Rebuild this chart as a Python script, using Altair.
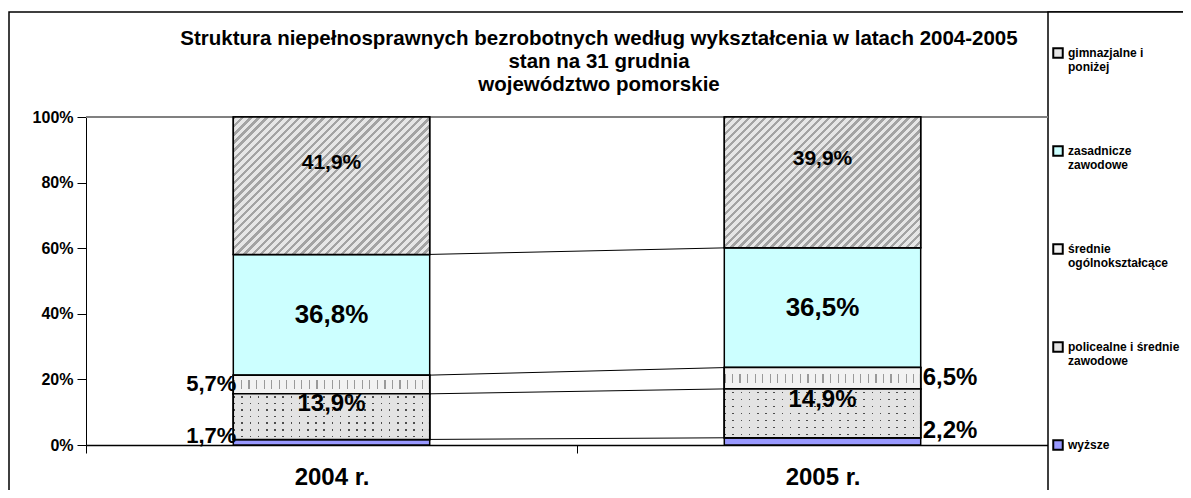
import altair as alt
import pandas as pd

# ---------------- data ----------------
years = ["2004 r.", "2005 r."]
categories = ["wyższe", "policealne i średnie zawodowe", "średnie ogólnokształcące",
              "zasadnicze zawodowe", "gimnazjalne i poniżej"]
share_2004 = [1.7, 13.9, 5.7, 36.8, 41.9]
share_2005 = [2.2, 14.9, 6.5, 36.5, 39.9]
legend_lines = [["wyższe"], ["policealne i średnie", "zawodowe"], ["średnie", "ogólnokształcące"],
                ["zasadnicze", "zawodowe"], ["gimnazjalne i", "poniżej"]]
title_lines = ["Struktura niepełnosprawnych bezrobotnych według wykształcenia w latach 2004-2005",
               "stan na 31 grudnia", "województwo pomorskie"]
y_ticks = [0, 0.2, 0.4, 0.6, 0.8, 1.0]

# ---------------- style ----------------
FONT = "Liberation Sans"
PLOT_W, PLOT_H = 962, 328
BAND = 491.0
XMAX = PLOT_W / BAND
HALF = 0.2
BAR_W = 2 * HALF * BAND
colors = ["#9999FF", "#E3E3E3", "#F2F2F2", "#CCFFFF", "#E6E6E6"]

rows = []
for yi, shares in enumerate([share_2004, share_2005]):
    cum = 0.0
    for ci, (cat, v) in enumerate(zip(categories, shares)):
        rows.append(dict(year=years[yi], yi=yi, pos=yi + 0.5, cat=cat, order=ci,
                         value=v, y0=cum / 100, y1=(cum + v) / 100))
        cum += v
df = pd.DataFrame(rows)

# series lines between bars
line_rows = []
for ci in range(len(categories) - 1):
    a = df[(df.yi == 0) & (df.order == ci)].iloc[0]
    b = df[(df.yi == 1) & (df.order == ci)].iloc[0]
    line_rows.append(dict(xa=a.pos + HALF, xb=b.pos - HALF, ya=a.y1, yb=b.y1))
lines_df = pd.DataFrame(line_rows)


def stripes(n, duty, dark, light, x2, y2):
    stops = []
    for i in range(n):
        s, e, f = i / n, (i + duty) / n, (i + 1) / n
        stops += [{"offset": s, "color": dark}, {"offset": e, "color": dark},
                  {"offset": e, "color": light}, {"offset": f, "color": light}]
    return {"gradient": "linear", "x1": 0, "y1": 0, "x2": x2, "y2": y2, "stops": stops}


def diag_fill(share):
    h = share / 100 * PLOT_H
    r = h / BAR_W
    a = (1 + r) / (1 + r * r)
    n = int(round((BAR_W + h) / 2 ** 0.5 / 5.7))
    return stripes(n, 0.42, "#A3A3A3", "#E6E6E6", a, a * r)


def band_mask(color, clear, n=1, start=0.0, end=1.0):
    stops = []
    for i in range(n):
        s = i / n
        stops += [{"offset": s + start / n, "color": color},
                  {"offset": s + start / n, "color": clear},
                  {"offset": s + end / n, "color": clear},
                  {"offset": s + end / n, "color": color},
                  {"offset": (i + 1) / n, "color": color}]
    return {"gradient": "linear", "x1": 0, "y1": 0, "x2": 0, "y2": 1, "stops": stops}


xscale = alt.Scale(domain=[0, XMAX], nice=False, zero=False)
yscale = alt.Scale(domain=[0, 1], nice=False)

label_expr = (f"datum.value == 0.5 ? '{years[0]}' : datum.value == 1.5 ? '{years[1]}' : ''")
xaxis = alt.Axis(values=[0, 0.5, 1, 1.5], title=None, labelExpr=label_expr, grid=False,
                 tickSize=8, tickColor="black", domainColor="black", domainWidth=1.5,
                 labelFont=FONT, labelFontSize=24, labelFontWeight="bold", labelColor="black",
                 labelPadding=12, labelOverlap=False, labelFlush=False,
                 tickOpacity={"condition": {"test": "datum.value % 1 != 0", "value": 0}, "value": 1})
yaxis = alt.Axis(values=y_ticks, format=".0%", title=None, grid=False, tickSize=9,
                 tickColor="black", domainColor="black", labelFont=FONT, labelFontSize=16,
                 labelFontWeight="bold", labelColor="black", labelPadding=4)

leg_expr = ""
for cat, lines in zip(categories, legend_lines):
    arr = "[" + ", ".join(f"'{s}'" for s in lines) + "]"
    leg_expr += f"datum.label == '{cat}' ? {arr} : "
leg_expr += "datum.label"

legend = alt.Legend(title=None, orient="none", legendX=966, legendY=-70, padding=0,
                    symbolType="square", symbolSize=90, symbolStrokeColor="black",
                    symbolStrokeWidth=2, labelFont=FONT, labelFontSize=12,
                    labelFontWeight="bold", labelColor="black", labelLimit=300,
                    labelExpr=leg_expr, rowPadding=69, labelBaseline="middle", labelOffset=4)

base = alt.Chart(df).transform_calculate(
    xl=f"datum.pos - {HALF}", xr=f"datum.pos + {HALF}",
    ymid="(datum.y0 + datum.y1) / 2",
    lab="replace(format(datum.value, '.1f'), '.', ',') + '%'")

one = alt.Data(values=[{}])
outer = alt.Chart(one).mark_rect(fillOpacity=0, stroke="black", strokeWidth=1.5).encode(
    x=alt.value(-77), x2=alt.value(1300), y=alt.value(-105), y2=alt.value(600))
legend_box = alt.Chart(one).mark_rect(fill="white", stroke="black", strokeWidth=1.5).encode(
    x=alt.value(PLOT_W), x2=alt.value(1300), y=alt.value(-105), y2=alt.value(600))
top_line = alt.Chart(one).mark_rule(color="#808080", strokeWidth=2).encode(
    x=alt.value(0), x2=alt.value(PLOT_W), y=alt.value(0))

bars = base.mark_rect(stroke="black", strokeWidth=1.5).encode(
    x=alt.X("xl:Q", scale=xscale, axis=xaxis), x2="xr:Q",
    y=alt.Y("y0:Q", scale=yscale, axis=yaxis), y2="y1:Q",
    color=alt.Color("cat:N", scale=alt.Scale(domain=categories[::-1], range=colors[::-1]),
                    legend=legend))


def overlay(flt, fill):
    return base.transform_filter(flt).mark_rect(fill=fill, stroke="black", strokeWidth=1.5).encode(
        x=alt.X("xl:Q"), x2="xr:Q", y=alt.Y("y0:Q"), y2="y1:Q")


ov = [
    overlay("datum.order == 4 && datum.yi == 0", diag_fill(share_2004[4])),
    overlay("datum.order == 4 && datum.yi == 1", diag_fill(share_2005[4])),
    overlay("datum.order == 2", stripes(26, 0.16, "#9A9A9A", "#F2F2F2", 1, 0)),
    overlay("datum.order == 2", band_mask("#F2F2F2", "rgba(242,242,242,0)", 1, 0.28, 0.72)),
    overlay("datum.order == 1", stripes(24, 0.2, "#4D4D4D", "#E3E3E3", 1, 0)),
    overlay("datum.order == 1", band_mask("#E3E3E3", "rgba(227,227,227,0)", 7, 0.4, 0.63)),
]

series = alt.Chart(lines_df).mark_rule(color="black", strokeWidth=1).encode(
    x=alt.X("xa:Q"), x2="xb:Q", y=alt.Y("ya:Q"), y2="yb:Q")


def lab(flt, size, xf="pos", align="center", dx=0, dy=0):
    return base.transform_filter(flt).mark_text(
        font=FONT, fontSize=size, fontWeight="bold", color="black", align=align,
        baseline="middle", dx=dx, dy=dy).encode(
        x=alt.X(f"{xf}:Q"), y=alt.Y("ymid:Q"), text="lab:N")


labels = [
    lab("datum.order == 3", 26),
    lab("datum.order == 4", 21, dy=-23),
    lab("datum.order == 1", 24, dy=-13),
    lab("datum.yi == 0 && datum.order == 2", 22, xf="xl", align="right", dx=3),
    lab("datum.yi == 0 && datum.order == 0", 22, xf="xl", align="right", dx=3, dy=-6),
    lab("datum.yi == 1 && datum.order == 2", 24, xf="xr", align="left", dx=2),
    lab("datum.yi == 1 && datum.order == 0", 24, xf="xr", align="left", dx=2, dy=-10),
]

chart = alt.layer(outer, legend_box, top_line, bars, *ov, series, *labels).properties(
    width=PLOT_W, height=PLOT_H,
    autosize=alt.AutoSizeParams(type="none"),
    padding={"left": 78, "top": 109, "right": 135, "bottom": 45},
    title=alt.TitleParams(text=title_lines, font=FONT, fontSize=20.5, fontWeight="bold",
                          color="black", anchor="middle", dx=32, offset=-84, lineHeight=23),
).configure_view(strokeWidth=0).configure(background="white")

chart.save("out.html", embed_options={"renderer": "svg", "actions": False})
